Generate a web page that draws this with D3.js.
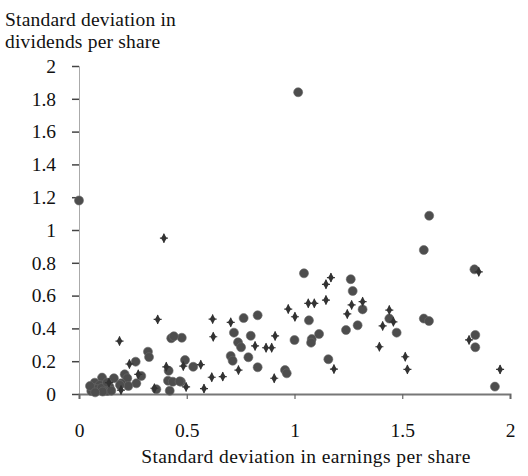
<!DOCTYPE html>
<html>
<head>
<meta charset="utf-8">
<script src="https://cdn.jsdelivr.net/npm/d3@7"></script>
<style>
  body { margin: 0; background: #fff; }
  text { font-family: "Liberation Serif", "Times New Roman", serif; fill: #111; }
</style>
</head>
<body>
<div id="main"></div>
<script>
// [sd of EPS, sd of DPS] pairs
var circlePoints = [
  [0.0, 1.18], [1.017, 1.84], [1.625, 1.087], [1.60, 0.878],
  [1.60, 0.46], [1.624, 0.445], [1.839, 0.36], [1.839, 0.285], [1.93, 0.045], [1.835, 0.76],
  [1.044, 0.736], [1.261, 0.70], [1.27, 0.628], [1.316, 0.516], [1.067, 0.449], [1.293, 0.419],
  [1.239, 0.39], [1.0, 0.329], [1.08, 0.335], [1.077, 0.313], [1.114, 0.366], [1.44, 0.46],
  [1.474, 0.374], [1.157, 0.212],
  [0.764, 0.463], [0.829, 0.48], [0.719, 0.374], [0.797, 0.355], [0.738, 0.315], [0.752, 0.285],
  [0.704, 0.232], [0.713, 0.203], [0.786, 0.224], [0.829, 0.163], [0.956, 0.146], [0.964, 0.126],
  [0.492, 0.207], [0.53, 0.166], [0.473, 0.075], [0.477, 0.343],
  [0.428, 0.34], [0.44, 0.352], [0.32, 0.258], [0.325, 0.225], [0.263, 0.197],
  [0.416, 0.142], [0.289, 0.11], [0.212, 0.12], [0.224, 0.096], [0.162, 0.096], [0.196, 0.065],
  [0.266, 0.065], [0.229, 0.049], [0.19, 0.055], [0.413, 0.081], [0.435, 0.075], [0.467, 0.077],
  [0.359, 0.029], [0.421, 0.02], [0.107, 0.1], [0.073, 0.069], [0.065, 0.037], [0.088, 0.024],
  [0.119, 0.055], [0.142, 0.043], [0.057, 0.018], [0.096, 0.055], [0.131, 0.018], [0.082, 0.03],
  [0.105, 0.037], [0.051, 0.049], [0.11, 0.015], [0.075, 0.01], [0.15, 0.02], [0.13, 0.07]
];
var crossPoints = [
  [0.394, 0.95], [1.855, 0.745], [1.81, 0.33], [1.514, 0.227], [1.524, 0.15], [1.954, 0.15],
  [1.169, 0.71], [1.146, 0.669], [1.064, 0.553], [1.092, 0.553], [1.146, 0.573], [1.265, 0.543],
  [1.316, 0.563], [1.245, 0.488], [1.44, 0.512], [1.459, 0.44], [1.409, 0.415], [1.394, 0.288],
  [1.183, 0.152],
  [0.62, 0.457], [0.704, 0.437], [0.971, 0.518], [1.002, 0.471], [0.623, 0.349], [0.817, 0.293],
  [0.868, 0.282], [0.894, 0.282], [0.91, 0.354], [0.74, 0.146], [0.906, 0.096],
  [0.484, 0.17], [0.565, 0.179], [0.616, 0.102], [0.667, 0.106], [0.58, 0.033], [0.497, 0.043],
  [0.365, 0.455], [0.188, 0.323], [0.234, 0.183], [0.405, 0.166], [0.275, 0.12], [0.139, 0.069],
  [0.35, 0.035], [0.195, 0.024]
];
var xTicks = [0, 0.5, 1, 1.5, 2];
var yTicks = [0, 0.2, 0.4, 0.6, 0.8, 1, 1.2, 1.4, 1.6, 1.8, 2];
var yTitle = ["Standard deviation in", "dividends per share"];
var xTitle = "Standard deviation in earnings per share";

(function() {
  var width = 528, height = 476;
  var m = { left: 79, right: 510, top: 66, bottom: 394 };
  var fontSize = 19.5;

  var svg = d3.select('#main').append('svg')
    .attr('width', width)
    .attr('height', height);

  var x = d3.scaleLinear().domain([0, 2]).range([m.left, m.right]);
  var y = d3.scaleLinear().domain([0, 2]).range([m.bottom, m.top]);
  var fmt = d3.format('~g');

  // y axis: thin light line, ticks on the left
  var yAxis = svg.append('g')
    .attr('transform', 'translate(' + m.left + ',0)')
    .call(d3.axisLeft(y).tickValues(yTicks).tickSize(7).tickPadding(16).tickFormat(fmt));
  yAxis.select('.domain').attr('stroke', '#aaa').attr('stroke-width', 1);
  yAxis.selectAll('.tick line').attr('stroke', '#444').attr('stroke-width', 1.5);
  yAxis.selectAll('.tick text')
    .attr('font-size', fontSize)
    .attr('font-family', '"Liberation Serif", serif')
    .attr('fill', '#111');

  // x axis: heavier grey line with small ticks below
  var xAxis = svg.append('g')
    .attr('transform', 'translate(0,' + m.bottom + ')')
    .call(d3.axisBottom(x).tickValues(xTicks).tickSize(5).tickPadding(24).tickFormat(fmt));
  xAxis.select('.domain').attr('stroke', '#777').attr('stroke-width', 2);
  xAxis.selectAll('.tick line').attr('stroke', '#666').attr('stroke-width', 1.2);
  xAxis.selectAll('.tick text')
    .attr('font-size', fontSize)
    .attr('font-family', '"Liberation Serif", serif')
    .attr('fill', '#111');

  // titles
  svg.append('g').selectAll('text').data(yTitle).enter().append('text')
    .attr('x', 5)
    .attr('y', function(d, i) { return 26 + i * 22; })
    .attr('font-size', fontSize)
    .attr('letter-spacing', 0.2)
    .text(function(d) { return d; });

  svg.append('text')
    .attr('x', 306)
    .attr('y', 463)
    .attr('text-anchor', 'middle')
    .attr('font-size', fontSize)
    .attr('letter-spacing', 0.4)
    .text(xTitle);

  // points
  var marks = svg.append('g');

  marks.selectAll('circle').data(circlePoints).enter().append('circle')
    .attr('cx', function(d) { return x(d[0]); })
    .attr('cy', function(d) { return y(d[1]); })
    .attr('r', 4.5)
    .attr('fill', '#4d4d4d')
    .attr('stroke', '#6a6a6a')
    .attr('stroke-width', 0.6);

  var cross = marks.selectAll('g.cross').data(crossPoints).enter().append('g')
    .attr('class', 'cross')
    .attr('transform', function(d) { return 'translate(' + x(d[0]) + ',' + y(d[1]) + ')'; });

  cross.append('path')
    .attr('d', d3.symbol().type(d3.symbolDiamond).size(28))
    .attr('fill', '#333');
  cross.append('path')
    .attr('d', 'M-4,0H4M0,-4.5V4.5')
    .attr('stroke', '#333')
    .attr('stroke-width', 1.2);
})();
</script>
</body>
</html>
